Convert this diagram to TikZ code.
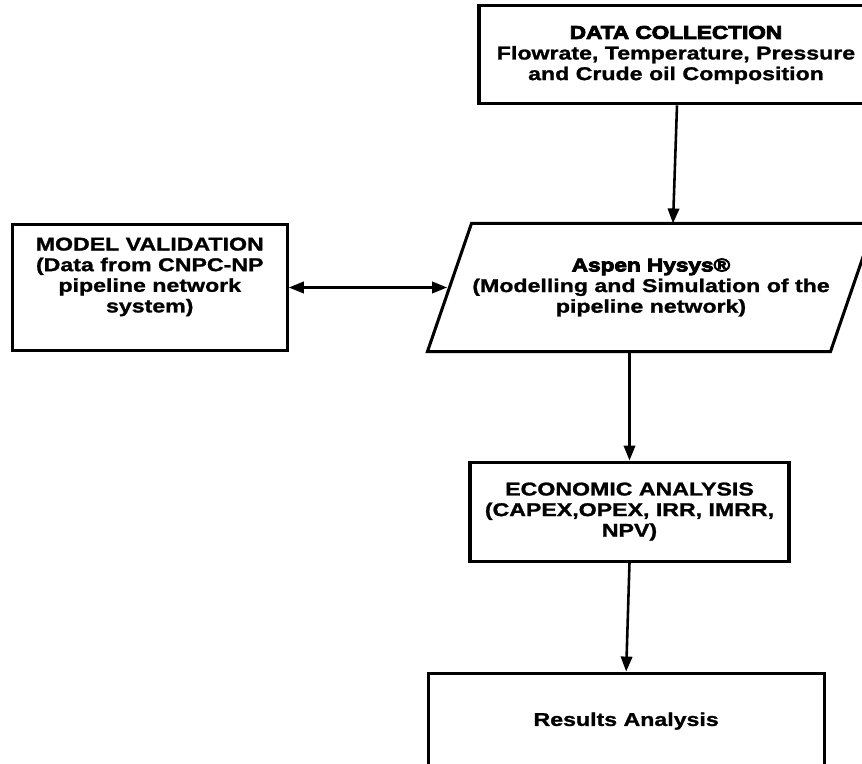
\documentclass[tikz,border=0pt]{standalone}
\usepackage{fontspec}
\setmainfont{Liberation Sans}[FakeStretch=1.25,BoldFeatures={FakeBold=1.3}]
\newfontface\heavyfont{Liberation Sans Bold}[FakeStretch=1.22,FakeBold=4.5]
\usetikzlibrary{positioning,arrows.meta}

\begin{document}
\begin{tikzpicture}[x=0.03cm, y=-0.03cm, node distance=1.5cm, auto,
    box/.style={draw, rectangle, line width=2.6pt, align=center, font=\bfseries\fontsize{15.8}{17.6}\selectfont},
    flow/.style={-{Triangle[length=0.45cm,width=0.34cm]}, line width=2.2pt}]
  \useasboundingbox (0,0) rectangle (862,764);

  % Simulation step in the middle (slanted box drawn round it)
  \node [box, draw=none, minimum width=12cm, minimum height=3.75cm] (hysys) at (651,287.5)
        {{\heavyfont Aspen Hysys®}\\(Modelling and Simulation of the\\pipeline network)};
  \draw [line width=2.6pt, line join=miter] ([xshift=-0.66cm]hysys.south west) -- ([xshift=-0.66cm]hysys.south east)
        -- ([xshift=0.66cm]hysys.north east) -- ([xshift=0.66cm]hysys.north west) -- cycle;

  % Input and validation
  \node [box, minimum width=11.82cm, minimum height=2.94cm, above=3.54cm of hysys, xshift=0.75cm] (collect)
        {{\heavyfont DATA COLLECTION}\\Flowrate, Temperature, Pressure\\and Crude oil Composition};
  \node [box, minimum width=8.25cm, minimum height=3.78cm, text depth=0.75cm, left=4.92cm of hysys, xshift=0.1cm] (valid)
        {MODEL VALIDATION\\(Data from CNPC-NP\\pipeline network\\system)};

  % Analysis steps
  \node [box, minimum width=9.57cm, minimum height=2.97cm, below=3.27cm of hysys, xshift=-0.645cm] (econ)
        {ECONOMIC ANALYSIS\\(CAPEX,OPEX, IRR, IMRR,\\NPV)};
  \node [box, minimum width=11.88cm, minimum height=2.88cm, below=3.27cm of econ, xshift=-0.1cm] (results)
        {Results Analysis};

  % Arrows
  \draw [flow] ([xshift=0.03cm]collect.south) -- ([xshift=0.66cm]hysys.north);
  \draw [flow, {Triangle[length=0.45cm,width=0.34cm]}-{Triangle[length=0.45cm,width=0.34cm]}] (valid.east) -- ([xshift=-0.07cm]hysys.west);
  \draw [flow] (hysys.south -| econ.north) -- (econ.north);
  \draw [flow] (econ.south) -- (results.north);
\end{tikzpicture}
\end{document}
